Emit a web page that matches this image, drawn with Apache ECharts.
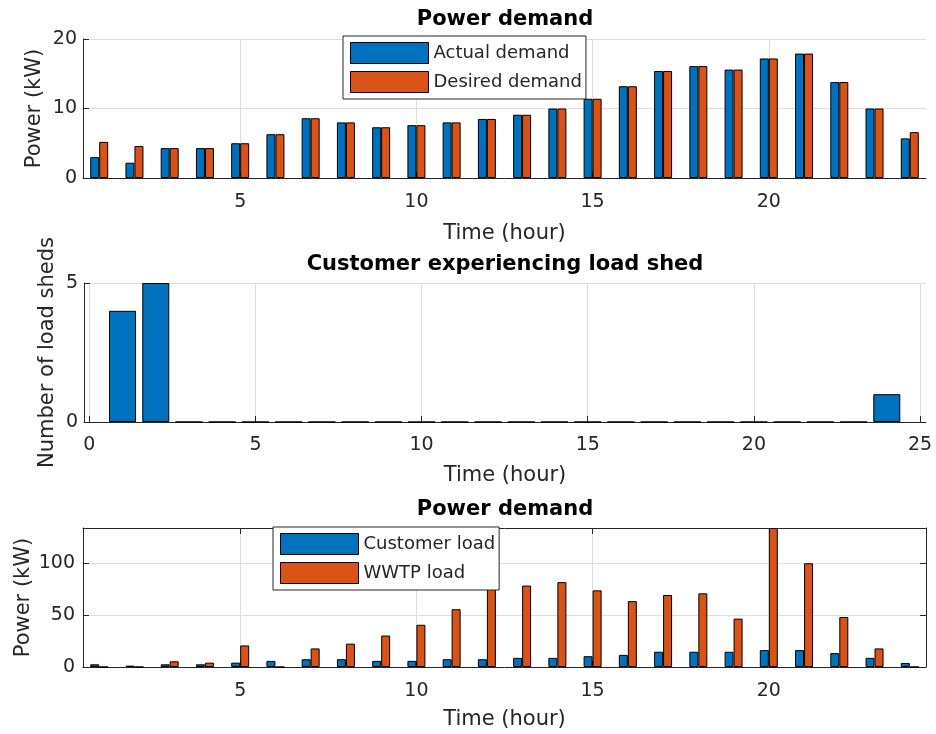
<!DOCTYPE html>
<html>
<head>
<meta charset="utf-8">
<title>Power demand</title>
<script src="https://cdn.jsdelivr.net/npm/echarts@6/dist/echarts.min.js"></script>
<style>
  html, body { margin: 0; padding: 0; background: #fff; }
  #chart-area { width: 936px; height: 734px; }
</style>
</head>
<body>
<div id="chart-area"></div>
<script>
// hour of the day for every bar group
var hours = [1, 2, 3, 4, 5, 6, 7, 8, 9, 10, 11, 12, 13, 14, 15, 16, 17, 18, 19, 20, 21, 22, 23, 24];

// top panel (kW)
var actualDemand = [3.0, 2.2, 4.3, 4.3, 5.0, 6.3, 8.6, 8.0, 7.3, 7.6, 8.0, 8.5, 9.1, 10.0, 11.4, 13.2, 15.4, 16.1, 15.6, 17.2, 17.9, 13.8, 10.0, 5.7];
var desiredDemand = [5.2, 4.6, 4.3, 4.3, 5.0, 6.3, 8.6, 8.0, 7.3, 7.6, 8.0, 8.5, 9.1, 10.0, 11.4, 13.2, 15.4, 16.1, 15.6, 17.2, 17.9, 13.8, 10.0, 6.6];

// middle panel
var loadSheds = [4, 5, 0, 0, 0, 0, 0, 0, 0, 0, 0, 0, 0, 0, 0, 0, 0, 0, 0, 0, 0, 0, 0, 1];

// bottom panel (kW)
var customerLoad = [2.6, 1.3, 2.6, 2.6, 4.2, 5.9, 7.5, 7.5, 5.9, 5.9, 7.5, 7.5, 8.8, 8.8, 10.4, 11.7, 14.7, 14.7, 14.7, 16.3, 16.3, 13.4, 8.8, 3.9];
var wwtpLoad = [0, 0, 5.5, 4.2, 20.8, 0, 17.9, 22.5, 30.3, 40.7, 55.7, 78, 78.5, 81.8, 73.9, 63.5, 69.4, 71.0, 46.6, 134, 100, 48.2, 17.9, 0];

// tick labels
var hourTicks = [5, 10, 15, 20];
var shedHourTicks = [0, 5, 10, 15, 20, 25];
var demandTicks = [0, 10, 20];
var shedTicks = [0, 5];
var loadTicks = [0, 50, 100];

var BLUE = "#0072BD";
var ORANGE = "#D95319";
var INK = "#262626";
var GRID = "#dedede";
var FONT = "DejaVu Sans";

function pairs(values) {
  return hours.map(function (h, i) {
    return [h, values[i]];
  });
}

// shared look of a MATLAB style axis
function axis(opts) {
  var a = {
    type: "value",
    gridIndex: opts.grid,
    min: opts.min,
    max: opts.max,
    position: opts.position,
    axisLine: { show: true, onZero: false, lineStyle: { color: INK, width: 1 } },
    axisTick: {
      show: true,
      inside: true,
      length: 6,
      customValues: opts.ticks,
      lineStyle: { color: INK }
    },
    axisLabel: {
      show: opts.labels !== false,
      customValues: opts.ticks,
      color: INK,
      fontFamily: FONT,
      fontSize: 19,
      margin: opts.margin || 8
    },
    splitLine: { show: opts.split !== false, lineStyle: { color: GRID, width: 1 } }
  };
  if (opts.name) {
    a.name = opts.name;
    a.nameLocation = "middle";
    a.nameGap = opts.nameGap;
    a.nameMoveOverlap = false;
    a.nameTextStyle = { color: INK, fontFamily: FONT, fontSize: 21 };
  }
  return a;
}

function barSeries(name, values, color, xi, yi, width) {
  return {
    name: name,
    type: "bar",
    xAxisIndex: xi,
    yAxisIndex: yi,
    barWidth: width,
    barGap: "0%",
    itemStyle: { color: color, borderColor: "#000", borderWidth: 1 },
    data: pairs(values)
  };
}

function legendBox(names, left, top) {
  return {
    data: names,
    orient: "vertical",
    left: left,
    top: top,
    itemWidth: 78,
    itemHeight: 21,
    itemGap: 7,
    padding: [6, 4, 6, 7],
    icon: "rect",
    backgroundColor: "#fff",
    borderColor: INK,
    borderWidth: 1,
    itemStyle: { borderColor: "#000", borderWidth: 1 },
    textStyle: { color: INK, fontFamily: FONT, fontSize: 18, lineHeight: 21 }
  };
}

function titleText(text, y) {
  return {
    type: "text",
    x: 505,
    y: y,
    style: {
      text: text,
      font: "bold 21px 'DejaVu Sans'",
      fill: "#000",
      textAlign: "center",
      textVerticalAlign: "middle"
    }
  };
}

var myChart = echarts.init(document.getElementById("chart-area"));

myChart.setOption({
  animation: false,
  backgroundColor: "#fff",
  grid: [
    { left: 83, right: 10, top: 39, height: 139 },
    { left: 84, right: 10, top: 283, height: 139 },
    { left: 83, right: 10, top: 528, height: 139, z: 3 }
  ],
  xAxis: [
    axis({ grid: 0, min: 0.54, max: 24.46, ticks: hourTicks, margin: 15, name: "Time (hour)", nameGap: 45 }),
    axis({ grid: 1, min: -0.16, max: 25.18, ticks: shedHourTicks, margin: 14, name: "Time (hour)", nameGap: 43 }),
    axis({ grid: 2, min: 0.54, max: 24.46, ticks: hourTicks, margin: 15, name: "Time (hour)", nameGap: 42 }),
    axis({ grid: 2, min: 0.54, max: 24.46, ticks: hourTicks, position: "top", labels: false, split: false })
  ],
  yAxis: [
    axis({ grid: 0, min: 0, max: 20, ticks: demandTicks, margin: 6, name: "Power (kW)", nameGap: 38 }),
    axis({ grid: 1, min: 0, max: 5, ticks: shedTicks, margin: 6, name: "Number of load sheds", nameGap: 26 }),
    axis({ grid: 2, min: 0, max: 134, ticks: loadTicks, margin: 8, name: "Power (kW)", nameGap: 49 }),
    axis({ grid: 2, min: 0, max: 134, ticks: loadTicks, position: "right", labels: false, split: false })
  ],
  legend: [
    legendBox(["Actual demand", "Desired demand"], 343, 36),
    legendBox(["Customer load", "WWTP load"], 273, 527)
  ],
  graphic: [
    titleText("Power demand", 20),
    titleText("Customer experiencing load shed", 265),
    titleText("Power demand", 510)
  ],
  series: [
    barSeries("Actual demand", actualDemand, BLUE, 0, 0, 9),
    barSeries("Desired demand", desiredDemand, ORANGE, 0, 0, 9),
    barSeries("Load sheds", loadSheds, BLUE, 1, 1, 27),
    barSeries("Customer load", customerLoad, BLUE, 2, 2, 9),
    barSeries("WWTP load", wwtpLoad, ORANGE, 2, 2, 9)
  ]
});
</script>
</body>
</html>
